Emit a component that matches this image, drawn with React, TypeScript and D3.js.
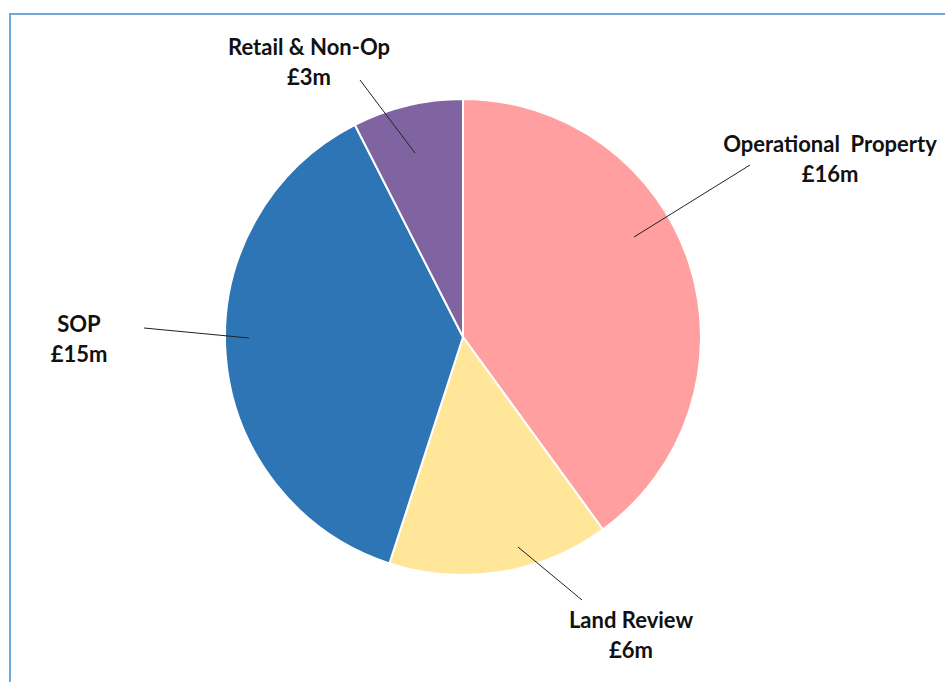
import React from "react";
import * as d3 from "d3";

const categories = ["Operational  Property", "Land Review", "SOP", "Retail & Non-Op"];
const values = [16, 6, 15, 3];
const valueLabels = ["£16m", "£6m", "£15m", "£3m"];
const colors = ["#FF9F9F", "#FFE699", "#2E75B6", "#8064A2"];

// label layout: text centre, leader line start (near text) and end (inside slice)
const labelLayout = [
  { tx: 830, ty: 152, x1: 750, y1: 165, x2: 634, y2: 237 },
  { tx: 631, ty: 628, x1: 582, y1: 600, x2: 518, y2: 547 },
  { tx: 79, ty: 332, x1: 144, y1: 328, x2: 249, y2: 338 },
  { tx: 309, ty: 55, x1: 360, y1: 80, x2: 415, y2: 153 },
];

const W = 945;
const H = 682;
const cx = 463;
const cy = 337;
const R = 238;

export default function App() {
  const pie = d3.pie<number>().sort(null).value((d) => d)(values);
  const arc = d3.arc<d3.PieArcDatum<number>>().innerRadius(0).outerRadius(R);
  const font = "Lato, 'Open Sans', sans-serif";
  return (
    <svg width={W} height={H} style={{ position: "absolute", left: 0, top: 0, background: "#fff" }}>
      <rect x={10} y={14} width={W + 20} height={H + 20} fill="#fff" stroke="#6FA8DC" strokeWidth={2} />
      <g transform={`translate(${cx},${cy})`}>
        {pie.map((p, i) => (
          <path key={i} d={arc(p) || ""} fill={colors[i]} stroke="#fff" strokeWidth={2} />
        ))}
      </g>
      {labelLayout.map((l, i) => (
        <g key={i}>
          <line x1={l.x1} y1={l.y1} x2={l.x2} y2={l.y2} stroke="#222" strokeWidth={1} />
          <text
            x={l.tx}
            y={l.ty}
            textAnchor="middle"
            fontFamily={font}
            fontWeight="bold"
            fontSize={22}
            fill="#111"
            style={{ whiteSpace: "pre" }}
          >
            <tspan x={l.tx}>{categories[i]}</tspan>
            <tspan x={l.tx} dy={30}>{valueLabels[i]}</tspan>
          </text>
        </g>
      ))}
    </svg>
  );
}
